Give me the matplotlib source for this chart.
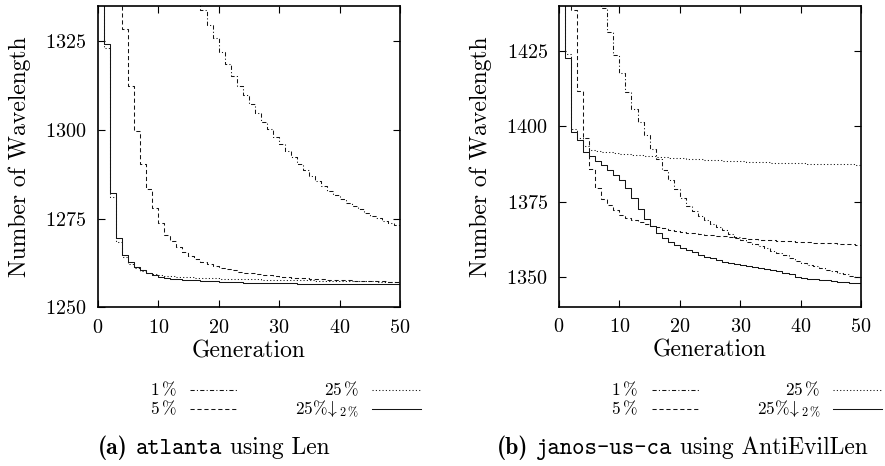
import matplotlib
matplotlib.use('Agg')
import matplotlib.pyplot as plt
from matplotlib.lines import Line2D

plt.rcParams.update({
    'font.family': 'cmr10',
    'mathtext.fontset': 'cm',
    'axes.formatter.use_mathtext': True,
    'axes.unicode_minus': False,
    'lines.scale_dashes': False,
})

# ---------------- data ----------------
generations = list(range(51))

# (a) atlanta using Len
atl_1pct = [1520, 1500, 1482, 1466, 1451, 1437, 1424, 1412, 1401, 1391,
            1381, 1372, 1364, 1357, 1350, 1344, 1338.5, 1333.8, 1329.6, 1325.8,
            1322.0, 1318.5, 1315.1, 1312.5, 1309.8, 1307.2, 1304.7, 1302.2, 1300.2, 1298.0,
            1296.0, 1294.2, 1292.3, 1290.4, 1288.7, 1287.1, 1285.6, 1284.2, 1282.9, 1281.7,
            1280.5, 1279.5, 1278.6, 1277.6, 1276.7, 1275.8, 1275.1, 1274.4, 1273.9, 1273.3,
            1272.9]
atl_5pct = [1400, 1380, 1360, 1340, 1328.4, 1312.4, 1299.8, 1290.4, 1283.3, 1277.9,
            1273.7, 1270.5, 1268.6, 1267.1, 1265.7, 1264.6, 1263.7, 1262.9, 1262.2, 1261.6,
            1261.1, 1260.7, 1260.4, 1260.1, 1259.8, 1259.6, 1259.4, 1259.2, 1259.0, 1258.9,
            1258.7, 1258.6, 1258.4, 1258.3, 1258.2, 1258.1, 1258.0, 1257.9, 1257.8, 1257.7,
            1257.7, 1257.6, 1257.5, 1257.5, 1257.4, 1257.4, 1257.3, 1257.3, 1257.2, 1257.2,
            1257.1]
atl_25pct = [1380, 1323, 1281, 1268.5, 1264.1, 1262.3, 1261.1, 1260.3, 1259.8, 1259.4,
             1259.1, 1258.9, 1258.8, 1258.7, 1258.6, 1258.5, 1258.4, 1258.3, 1258.3, 1258.2,
             1258.1, 1258.1, 1258.0, 1258.0, 1257.9, 1257.9, 1257.9, 1257.8, 1257.8, 1257.8,
             1257.7, 1257.7, 1257.7, 1257.6, 1257.6, 1257.6, 1257.5, 1257.5, 1257.5, 1257.4,
             1257.4, 1257.4, 1257.3, 1257.3, 1257.3, 1257.3, 1257.2, 1257.2, 1257.2, 1257.1,
             1257.1]
atl_25pct_d2 = [1380, 1324.2, 1282.3, 1269.6, 1264.7, 1262.8, 1261.5, 1260.4, 1259.6, 1259.1,
                1258.7, 1258.4, 1258.1, 1257.9, 1257.8, 1257.7, 1257.6, 1257.5, 1257.4, 1257.3,
                1257.2, 1257.2, 1257.1, 1257.1, 1257.0, 1257.0, 1256.9, 1256.9, 1256.9, 1256.8,
                1256.8, 1256.8, 1256.8, 1256.7, 1256.7, 1256.7, 1256.7, 1256.7, 1256.6, 1256.6,
                1256.6, 1256.6, 1256.6, 1256.6, 1256.5, 1256.5, 1256.5, 1256.5, 1256.5, 1256.5,
                1256.5]

# (b) janos-us-ca using AntiEvilLen
jan_1pct = [1520, 1505, 1490, 1477, 1466, 1456, 1447, 1439.1, 1431.3, 1423.6,
            1417.8, 1411.5, 1405.8, 1401.5, 1397.1, 1392.5, 1389.0, 1385.5, 1382.2, 1379.1,
            1376.2, 1373.6, 1371.7, 1370.3, 1369.0, 1367.7, 1366.6, 1365.5, 1364.2, 1363.1,
            1362.1, 1361.5, 1360.9, 1360.2, 1359.5, 1358.7, 1357.9, 1357.1, 1356.3, 1355.4,
            1354.5, 1354.0, 1353.5, 1352.9, 1352.4, 1351.8, 1351.3, 1350.8, 1350.3, 1349.8,
            1349.2]
jan_5pct = [1500, 1460, 1438.5, 1411.8, 1396.0, 1385.8, 1379.5, 1376.0, 1373.7, 1372.1,
            1370.4, 1369.6, 1368.9, 1368.2, 1367.6, 1367.0, 1366.5, 1366.1, 1365.7, 1365.3,
            1365.0, 1364.7, 1364.5, 1364.2, 1364.0, 1363.8, 1363.6, 1363.4, 1363.2, 1363.0,
            1362.8, 1362.7, 1362.6, 1362.4, 1362.3, 1362.2, 1362.0, 1361.9, 1361.8, 1361.7,
            1361.6, 1361.5, 1361.4, 1361.3, 1361.2, 1361.1, 1361.0, 1360.9, 1360.8, 1360.6,
            1360.5]
jan_25pct = [1470, 1424, 1399, 1396, 1393.3, 1392.0, 1391.7, 1391.5, 1391.3, 1391.1,
             1390.9, 1390.7, 1390.5, 1390.4, 1390.2, 1390.1, 1389.9, 1389.8, 1389.6, 1389.5,
             1389.3, 1389.2, 1389.1, 1389.0, 1388.9, 1388.8, 1388.7, 1388.6, 1388.5, 1388.4,
             1388.3, 1388.2, 1388.1, 1388.1, 1388.0, 1387.9, 1387.9, 1387.8, 1387.8, 1387.7,
             1387.7, 1387.6, 1387.6, 1387.5, 1387.5, 1387.4, 1387.4, 1387.3, 1387.3, 1387.2,
             1387.2]
jan_25pct_d2 = [1470, 1422.5, 1398.0, 1395.3, 1391.5, 1390.2, 1388.6, 1387.2, 1385.5, 1383.9,
                1382.0, 1379.5, 1376.2, 1372.5, 1369.3, 1366.8, 1364.5, 1362.9, 1361.5, 1360.5,
                1359.6, 1358.9, 1358.2, 1357.3, 1356.7, 1356.2, 1355.6, 1355.1, 1354.7, 1354.2,
                1353.8, 1353.5, 1353.2, 1352.9, 1352.6, 1352.2, 1351.8, 1351.4, 1351.0, 1350.1,
                1349.7, 1349.4, 1349.2, 1349.0, 1348.8, 1348.6, 1348.4, 1348.3, 1348.1, 1348.0,
                1347.8]

x_ticks = [0, 10, 20, 30, 40, 50]
y_ticks_a = [1250, 1275, 1300, 1325]
y_ticks_b = [1350, 1375, 1400, 1425]
ylim_a = (1250, 1335)
ylim_b = (1340, 1440)

series_labels = [r'$1\,\%$', r'$5\,\%$', r'$25\,\%$', r'$25\%\!\downarrow_{2\,\%}$']

# ---------------- style ----------------
W, H = 885, 466
fig = plt.figure(figsize=(W / 100, H / 100), dpi=100)


def fx(x):
    return x / W


def fy(y):
    return 1 - y / H


styles = [
    dict(dashes=(3, 1.6, 0.8, 1.6)),
    dict(dashes=(3, 2)),
    dict(dashes=(0.8, 1.6)),
    dict(linestyle='-'),
]
LW = 0.75
LC = '#151515'

axL = fig.add_axes([fx(97.7), fy(307.4), (400 - 97.7) / W, (307.4 - 5.7) / H])
axR = fig.add_axes([fx(559), fy(307.0), (861 - 559) / W, (307.0 - 5.7) / H])

panels = [
    (axL, [atl_1pct, atl_5pct, atl_25pct, atl_25pct_d2], y_ticks_a, ylim_a),
    (axR, [jan_1pct, jan_5pct, jan_25pct, jan_25pct_d2], y_ticks_b, ylim_b),
]

for ax, data, yt, yl in panels:
    for vals, st in zip(data, styles):
        ax.step(generations, vals, where='post', color=LC, lw=LW, **st)
    ax.set_xlim(0, 50)
    ax.set_ylim(*yl)
    ax.set_xticks(x_ticks)
    ax.set_yticks(yt)
    ax.tick_params(direction='in', length=5, width=0.8, top=True, right=True,
                   labelsize=14.5, pad=8)
    for s in ax.spines.values():
        s.set_linewidth(1.2)
    ax.set_xlabel('Generation', fontsize=17)
    ax.set_ylabel('Number of Wavelength', fontsize=17)
    ax.xaxis.set_label_coords(0.5, -0.108)
    ax.yaxis.set_label_coords(-0.222, 0.5)

# ---------------- legends ----------------
def legend(dx):
    rows = [(395.5, 390.0), (414.0, 408.5)]
    cols = [(176.7, 190, 238), (359.3, 371.7, 420.7)]
    for ci, (tx, l0, l1) in enumerate(cols):
        for ri, (base, ly) in enumerate(rows):
            idx = ci * 2 + ri
            fig.text(fx(tx + dx), fy(base), series_labels[idx], ha='right',
                     va='baseline', fontsize=12.5)
            fig.add_artist(Line2D([fx(l0 + dx), fx(l1 + dx)], [fy(ly), fy(ly)],
                                  transform=fig.transFigure, color=LC,
                                  lw=LW, **styles[idx]))


legend(0)
legend(461.5)

# ---------------- captions ----------------
renderer = fig.canvas.get_renderer()


def caption(cx, base, parts, size=17):
    gap = size * 100 / 72 * 0.333
    texts = []
    for s, fam in parts:
        t = fig.text(0, fy(base), s, family=fam, fontsize=size, va='baseline', ha='left')
        texts.append(t)
    widths = [t.get_window_extent(renderer).width for t in texts]
    total = sum(widths) + gap * (len(texts) - 1)
    x = cx - total / 2
    for t, w in zip(texts, widths):
        t.set_x(fx(x))
        x += w + gap


caption(213.4, 454, [('(a)', 'cmb10'), ('atlanta', 'cmtt10'), ('using Len', 'cmr10')])
caption(682.5, 454, [('(b)', 'cmb10'), ('janos-us-ca', 'cmtt10'), ('using AntiEvilLen', 'cmr10')])

fig.savefig('out.png', dpi=100)
